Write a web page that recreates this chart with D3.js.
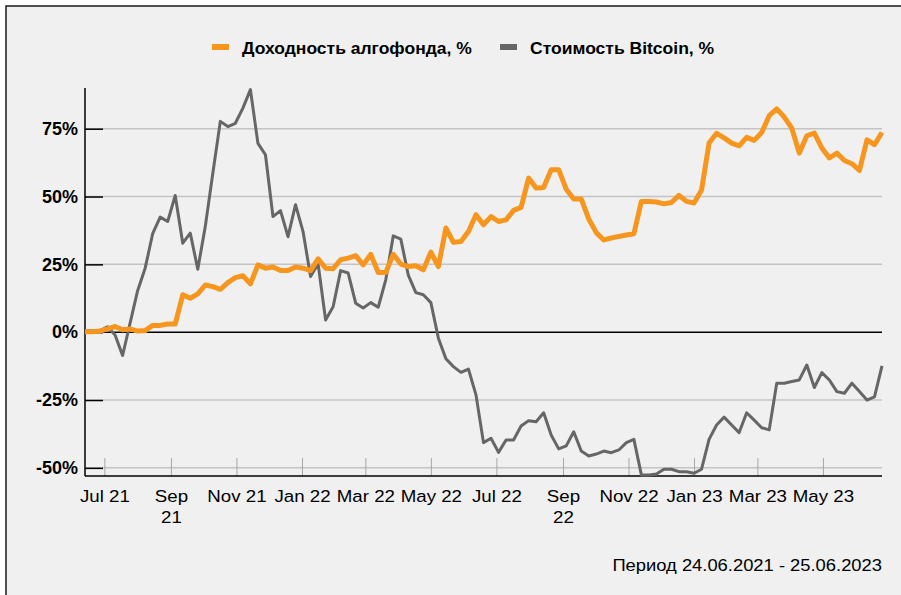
<!DOCTYPE html>
<html>
<head>
<meta charset="utf-8">
<script src="https://cdn.jsdelivr.net/npm/d3@7"></script>
<style>
  html, body { margin: 0; padding: 0; background: #fff; }
  svg { display: block; }
</style>
</head>
<body>
<div id="chart"></div>
<script>
// weekly closes, Sundays 13.06.2021 .. 25.06.2023
const FUND = [
  0.2, 0.2, 0.4, 1.2, 2.1, 0.9, 1.2, 0.4, 0.6, 2.5,
  2.5, 3.0, 3.0, 13.8, 12.5, 14.1, 17.4, 16.8, 15.8, 18.3,
  20.1, 20.8, 17.8, 24.8, 23.6, 24.0, 22.7, 22.7, 24.0, 23.6,
  22.7, 27.0, 23.6, 23.4, 26.7, 27.3, 28.2, 24.8, 28.7, 22.0,
  22.0, 28.7, 25.1, 24.2, 24.5, 23.0, 29.5, 24.2, 38.4, 33.1,
  33.4, 37.1, 43.3, 39.6, 42.6, 40.8, 41.4, 44.9, 46.0, 56.8,
  53.1, 53.3, 59.9, 59.9, 52.7, 49.1, 49.1, 41.7, 36.7, 34.0,
  34.7, 35.3, 35.8, 36.3, 48.2, 48.2, 48.0, 47.3, 47.8, 50.4,
  48.2, 47.6, 52.4, 69.7, 73.3, 71.6, 69.7, 68.7, 71.8, 70.7,
  73.6, 79.8, 82.3, 79.3, 75.2, 66.0, 72.4, 73.4, 67.9, 64.2,
  66.0, 63.3, 62.1, 59.6, 70.9, 69.1, 73.6
];
const BITCOIN = [
  0.5, 0.5, 0.6, 2.0, -1.0, -8.6, 3.4, 15.3, 23.6, 36.3,
  42.4, 40.8, 50.4, 32.8, 36.5, 23.2, 39.0, 58.6, 77.7, 75.8,
  77.0, 82.6, 89.4, 69.6, 65.4, 42.6, 44.8, 35.2, 47.0, 37.1,
  20.5, 25.2, 4.5, 9.4, 22.7, 21.8, 10.7, 8.9, 10.9, 9.2,
  19.3, 35.5, 34.3, 21.0, 14.6, 13.8, 10.9, -2.2, -9.8, -12.7,
  -14.8, -13.6, -23.1, -40.7, -39.1, -44.3, -39.7, -39.7, -34.6, -32.6,
  -33.0, -29.7, -37.9, -43.0, -41.9, -36.7, -43.8, -45.6, -44.9, -43.8,
  -44.4, -43.4, -40.7, -39.5, -52.6, -52.6, -52.3, -50.5, -50.5, -51.4,
  -51.4, -52.0, -50.5, -39.5, -34.2, -31.3, -34.2, -37.0, -29.7, -32.4,
  -35.2, -36.0, -18.8, -18.8, -18.2, -17.6, -12.1, -20.4, -14.9, -17.6,
  -21.9, -22.5, -18.8, -21.9, -25.0, -23.8, -12.4
];
const SERIES_NAMES = ['Доходность алгофонда, %', 'Стоимость Bitcoin, %'];
const Y_TICKS = [-50, -25, 0, 25, 50, 75];
const X_TICK_LABELS = [
  ['Jul 21'], ['Sep', '21'], ['Nov 21'], ['Jan 22'], ['Mar 22'], ['May 22'],
  ['Jul 22'], ['Sep', '22'], ['Nov 22'], ['Jan 23'], ['Mar 23'], ['May 23']
];
const PERIOD = 'Период 24.06.2021 - 25.06.2023';

const COLORS = { fund: '#f7961e', btc: '#666666' };
const FONT = "'Liberation Sans', Arial, Helvetica, sans-serif";
const STRETCH = 'scale(1.1,1)'; // source text is drawn a bit wide

const W = 901, H = 595;
const M = { top: 88, right: 19, bottom: 119, left: 85 };
const iW = W - M.left - M.right;
const iH = H - M.top - M.bottom;

const dates = d3.timeWeek.range(new Date(2021, 5, 13), new Date(2023, 5, 26));
const tickDates = d3.timeMonth.every(2).range(new Date(2021, 6, 1), new Date(2023, 5, 2));

const svg = d3.select('#chart')
  .append('svg')
  .attr('width', W).attr('height', H)
  .style('font-family', FONT);

// frame (only top and left edges fall inside the picture)
svg.append('rect')
  .attr('x', 6).attr('y', 6)
  .attr('width', W).attr('height', H)
  .attr('fill', '#f0f0f0')
  .attr('stroke', '#1a1a1a')
  .attr('stroke-width', 1.5);

const g = svg.append('g').attr('transform', `translate(${M.left},${M.top})`);

const x = d3.scaleTime()
  .domain([dates[0], dates[dates.length - 1]])
  .range([0, iW]);

const y = d3.scaleLinear()
  .domain([-53, 90])
  .range([iH, 0]);

// grid
g.append('g')
  .selectAll('line')
  .data(Y_TICKS.filter(d => d !== 0))
  .join('line')
  .attr('x1', 0).attr('x2', iW)
  .attr('y1', d => y(d)).attr('y2', d => y(d))
  .attr('stroke', '#c4c4c4')
  .attr('stroke-width', 1.5);

// x axis
const xAxis = g.append('g')
  .attr('transform', `translate(0,${iH})`)
  .call(d3.axisBottom(x).tickValues(tickDates).tickSize(-18).tickFormat(''))
  .call(ax => ax.select('.domain').remove())
  .call(ax => ax.selectAll('.tick line').attr('stroke', '#a8a8a8').attr('stroke-width', 1));

xAxis.selectAll('.tick').each(function (d, i) {
  const t = d3.select(this).append('text')
    .attr('fill', '#000')
    .attr('font-size', 17)
    .attr('text-anchor', 'middle')
    .attr('transform', STRETCH);
  X_TICK_LABELS[i].forEach((line, k) => {
    t.append('tspan').attr('x', 0).attr('y', 26 + k * 21).text(line);
  });
});

g.append('line')
  .attr('x1', 0).attr('x2', iW)
  .attr('y1', iH).attr('y2', iH)
  .attr('stroke', '#000').attr('stroke-width', 1.5);

// zero line
g.append('line')
  .attr('x1', 0).attr('x2', iW)
  .attr('y1', y(0)).attr('y2', y(0))
  .attr('stroke', '#000').attr('stroke-width', 1.5);

// y axis
g.append('g')
  .call(d3.axisLeft(y).tickValues(Y_TICKS).tickSize(-18).tickPadding(7).tickFormat(d => `${d}%`))
  .call(ax => ax.select('.domain').attr('stroke-width', 1.5).attr('d', `M0,0V${iH}`))
  .call(ax => ax.selectAll('.tick line').attr('stroke', '#000').attr('stroke-width', 1.5))
  .call(ax => ax.selectAll('text')
    .attr('font-size', 18).attr('font-weight', 'bold').attr('fill', '#000')
    .style('font-family', FONT));

// lines
const line = d3.line()
  .x((d, i) => x(dates[i]))
  .y(d => y(d));

g.append('path')
  .datum(BITCOIN)
  .attr('fill', 'none')
  .attr('stroke', COLORS.btc)
  .attr('stroke-width', 3)
  .attr('stroke-linejoin', 'round')
  .attr('d', line);

g.append('path')
  .datum(FUND)
  .attr('fill', 'none')
  .attr('stroke', COLORS.fund)
  .attr('stroke-width', 5)
  .attr('stroke-linejoin', 'round')
  .attr('d', line);

// legend
const legend = [
  { label: SERIES_NAMES[0], color: COLORS.fund, x: 212 },
  { label: SERIES_NAMES[1], color: COLORS.btc, x: 500 },
];
legend.forEach(item => {
  svg.append('rect')
    .attr('x', item.x).attr('y', 44)
    .attr('width', 17).attr('height', 6)
    .attr('fill', item.color);
  svg.append('text')
    .attr('transform', `translate(${item.x + 30},54) scale(1.03,1)`)
    .attr('font-size', 17).attr('font-weight', 'bold')
    .attr('fill', '#000')
    .text(item.label);
});

// period note
svg.append('text')
  .attr('transform', `translate(882,571) ${STRETCH}`)
  .attr('text-anchor', 'end')
  .attr('font-size', 16.7)
  .attr('fill', '#000')
  .text(PERIOD);
</script>
</body>
</html>
